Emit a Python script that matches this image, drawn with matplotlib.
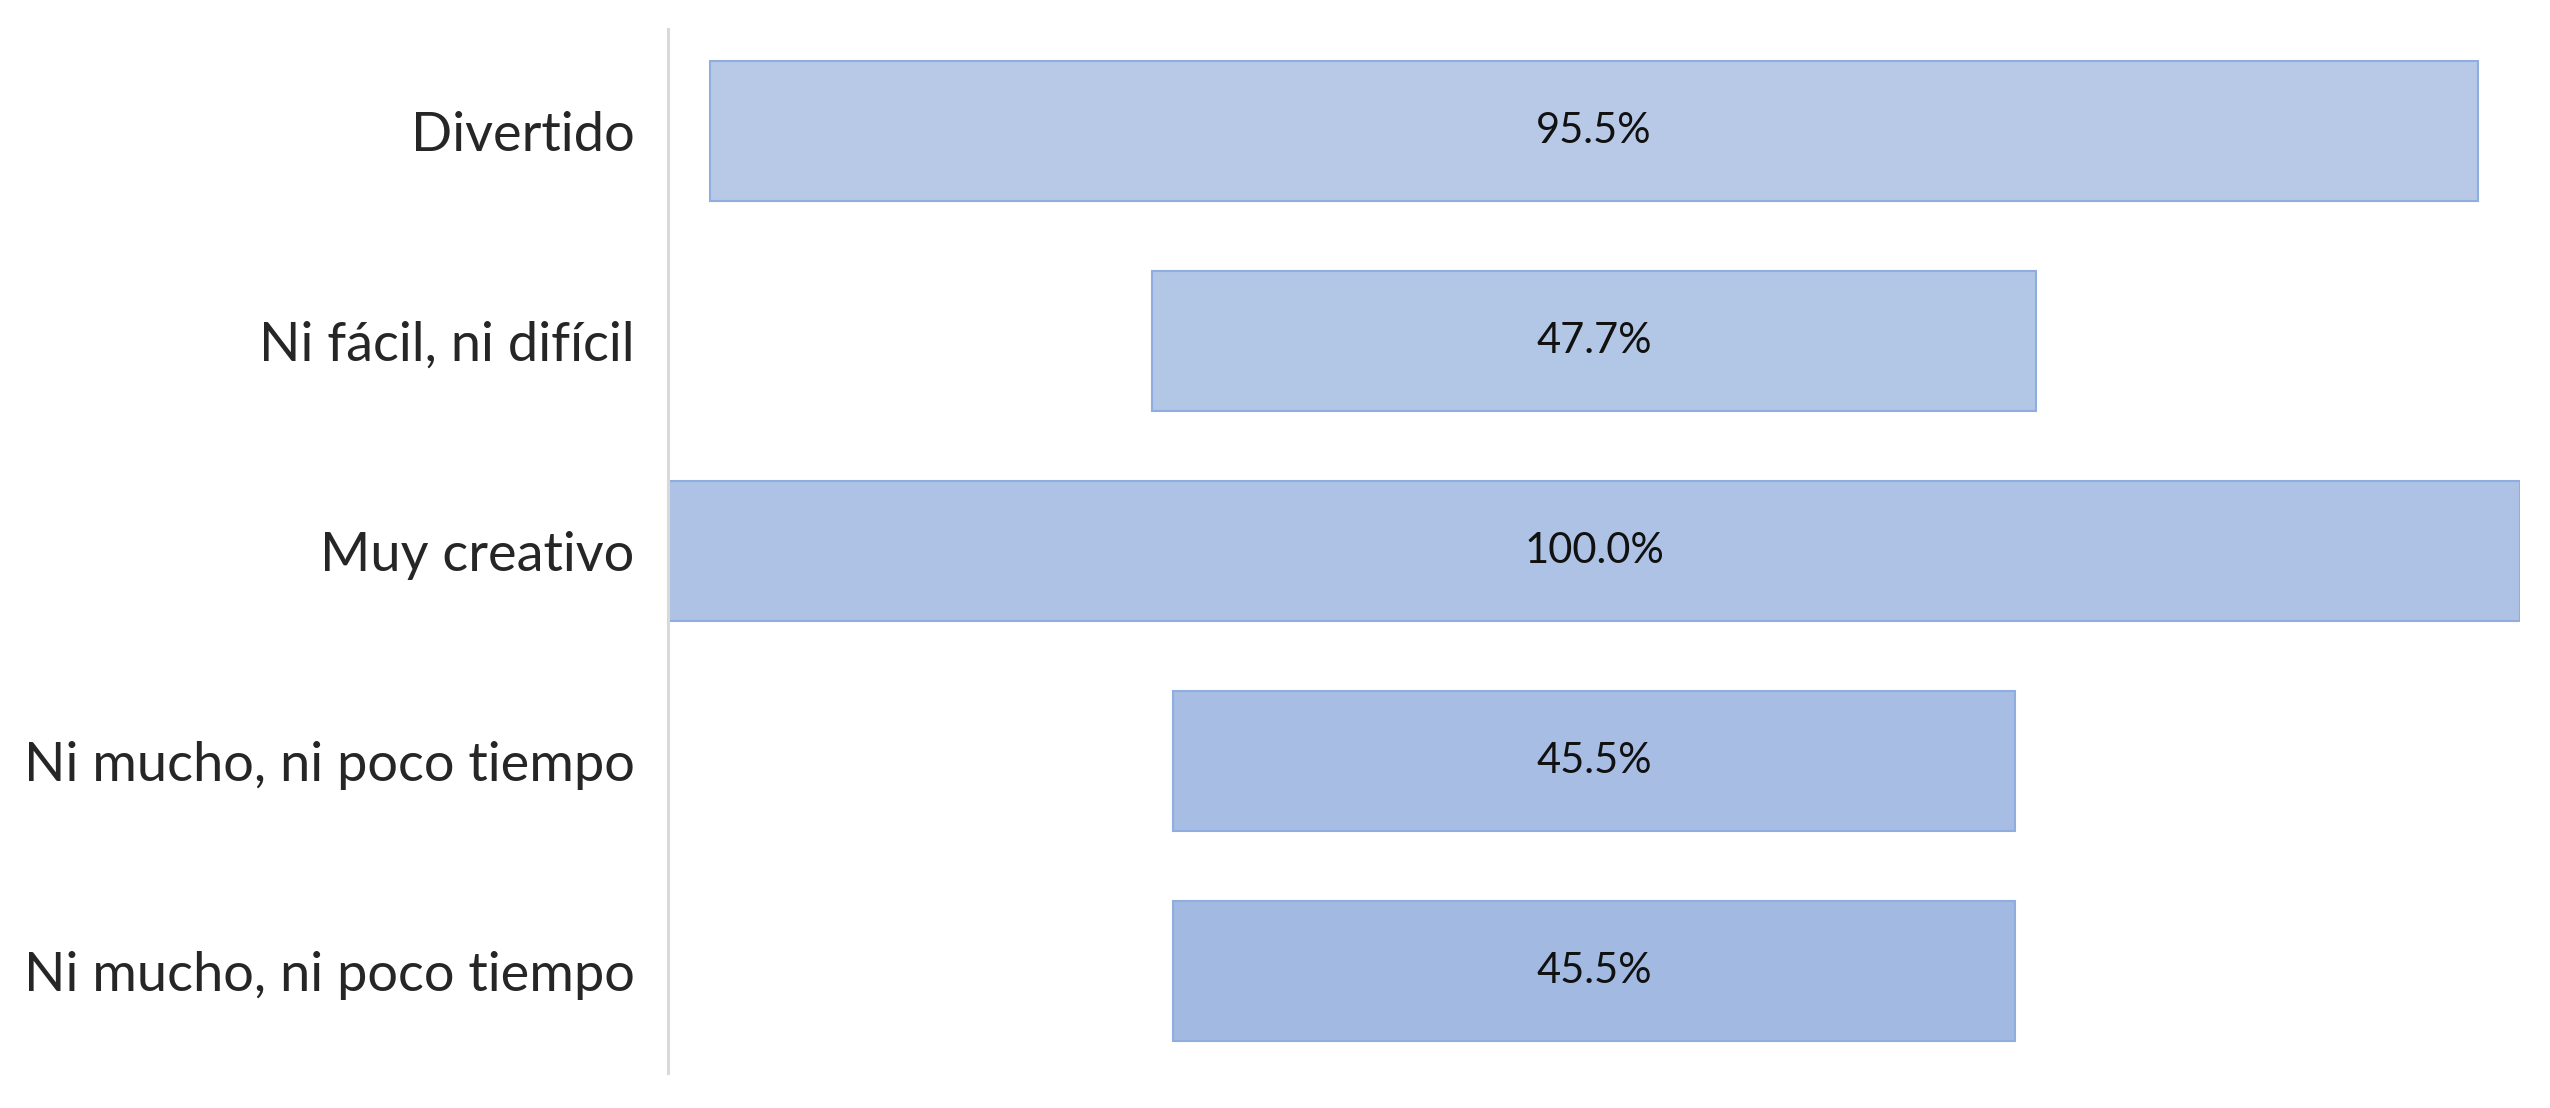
import matplotlib
matplotlib.use('Agg')
import matplotlib.pyplot as plt

# funnel data (top to bottom)
categories = ["Divertido", "Ni fácil, ni difícil", "Muy creativo",
              "Ni mucho, ni poco tiempo", "Ni mucho, ni poco tiempo"]
values = [95.5, 47.7, 100.0, 45.5, 45.5]

# slight top-to-bottom shading like the original
fills = ["#b7c9e7", "#b2c6e6", "#adc2e4", "#a7bde3", "#a2b9e2"]

plt.rcParams['font.family'] = ['Lato', 'DejaVu Sans']

fig = plt.figure(figsize=(25.5, 11.08), dpi=100)
ax = fig.add_axes([668 / 2550, 1 - 1073 / 1108, (2520 - 668) / 2550, (1073 - 29) / 1108])

ypos = list(range(len(values)))
lefts = [(100 - v) / 2 for v in values]
ax.barh(ypos, values, left=lefts, height=0.667, color=fills,
        edgecolor="#8fadde", linewidth=1.5)

for y, v in zip(ypos, values):
    ax.text(50, y, f"{v:.1f}%", ha='center', va='center', fontsize=30, color='#111111')

ax.set_xlim(0, 100)
ax.set_ylim(len(values) - 0.514, -0.486)
ax.set_yticks(ypos)
ax.set_yticklabels(categories, fontsize=39, color='#262626')
ax.tick_params(axis='y', length=0, pad=24)
ax.set_xticks([])
for s in ['top', 'right', 'bottom']:
    ax.spines[s].set_visible(False)
ax.spines['left'].set_color('#d9d9d9')
ax.spines['left'].set_linewidth(2.2)

fig.savefig("out.png", dpi=100, facecolor='white')
